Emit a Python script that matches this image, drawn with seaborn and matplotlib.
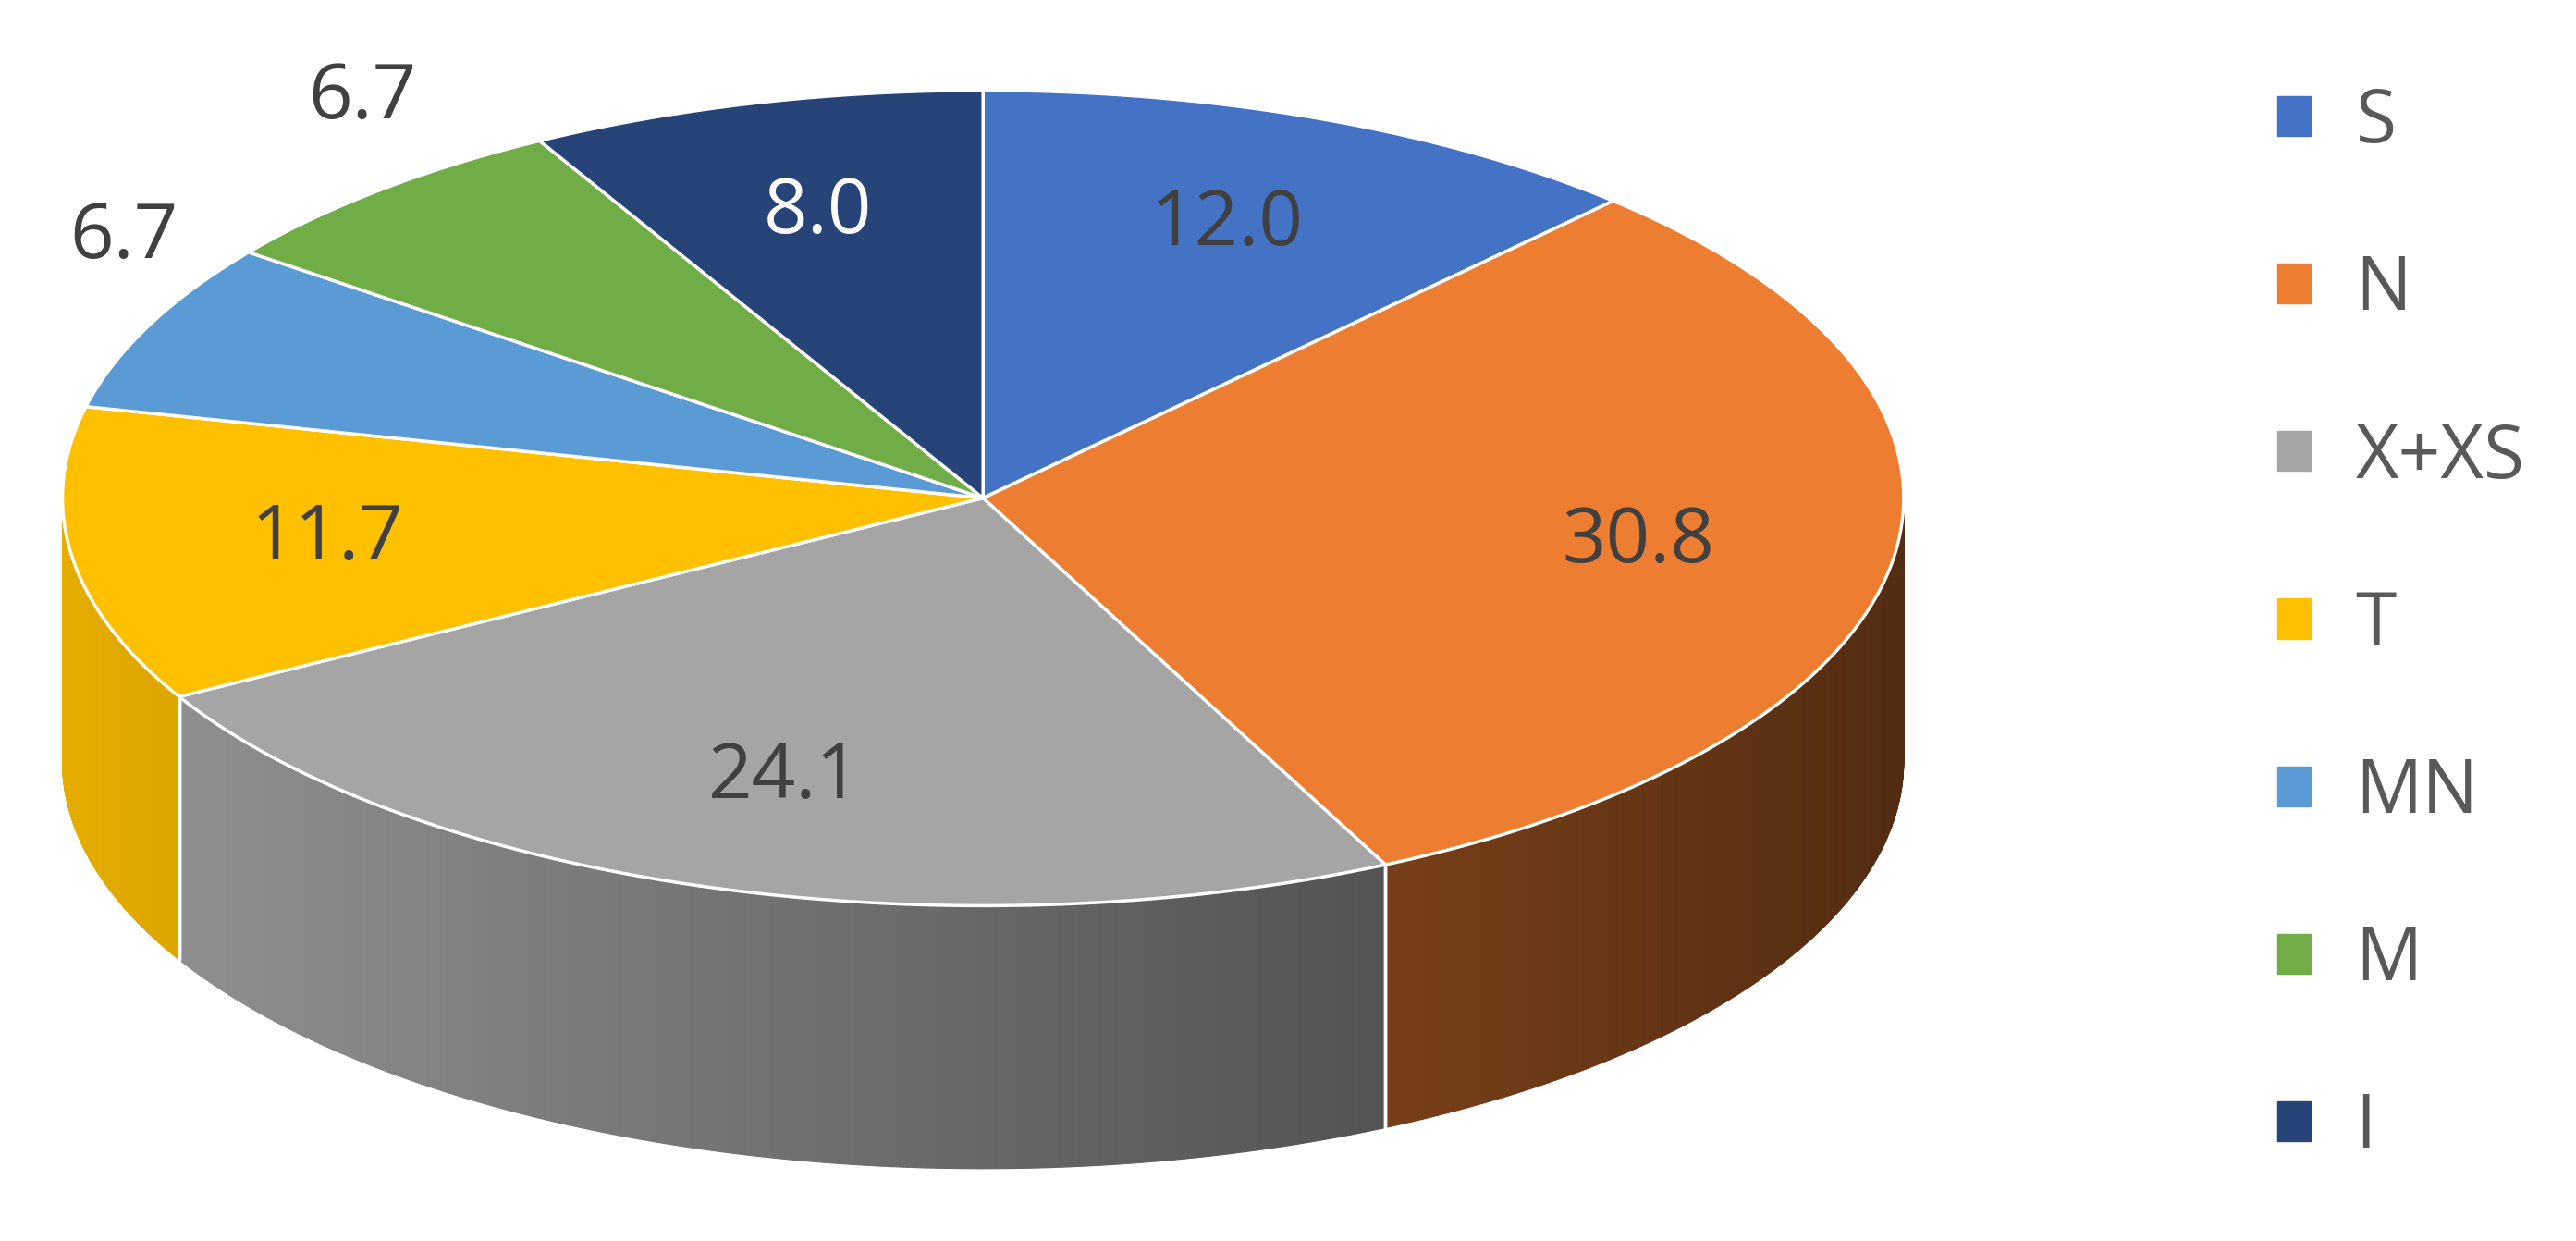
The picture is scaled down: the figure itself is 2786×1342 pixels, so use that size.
import numpy as np
import matplotlib
matplotlib.use("Agg")
import matplotlib.pyplot as plt
from matplotlib.patches import Polygon, Patch
import seaborn as sns

categories = ["S", "N", "X+XS", "T", "MN", "M", "I"]
values = [12.0, 30.8, 24.1, 11.7, 6.7, 6.7, 8.0]
hexcolors = ["#4472C4", "#ED7D31", "#A5A5A5", "#FFC000", "#5B9BD5", "#70AD47", "#264478"]
label_text = ["12.0", "30.8", "24.1", "11.7", "6.7", "6.7", "8.0"]

sns.set_theme(style="white")
plt.rcParams['font.family'] = ['Open Sans', 'DejaVu Sans']
colors = sns.color_palette(hexcolors)

fig = plt.figure(figsize=(27.86, 13.42), dpi=100)
ax = fig.add_axes([0, 0, 1, 1])
ax.set_xlim(0, 1567); ax.set_ylim(755, 0); ax.axis("off")

cx, cy, a, b, depth = 598, 303, 560, 248, 160
def pt(t):
    return cx + a*np.cos(t), cy - b*np.sin(t)

total = sum(values)
bounds = [np.pi/2]
for v in values:
    bounds.append(bounds[-1] - 2*np.pi*v/total)

# sides
for i, c in enumerate(colors):
    t0, t1 = bounds[i+1], bounds[i]
    ts = np.linspace(t0, t1, 400)
    ts = ts[np.sin(ts) < 0.0]
    if len(ts) < 2:
        continue
    for j in range(len(ts)-1):
        xa, ya = pt(ts[j]); xb, yb = pt(ts[j+1])
        f = 0.9 - 0.55*((xa+xb)/2 - (cx-a))/(2*a)
        col = tuple(np.clip(np.array(c)*f, 0, 1))
        ax.add_patch(Polygon([(xa, ya), (xb, yb), (xb, yb+depth), (xa, ya+depth)],
                             closed=True, fc=col, ec=col, lw=0.8))
    for t in (t0, t1):
        if np.sin(t) < 0:
            x, y = pt(t)
            ax.plot([x, x], [y, y+depth], color="white", lw=2.5)

# top face
for i, c in enumerate(colors):
    ts = np.linspace(bounds[i], bounds[i+1], 300)
    xs, ys = pt(ts)
    verts = [(cx, cy)] + list(zip(xs, ys))
    ax.add_patch(Polygon(verts, closed=True, fc=c, ec="white", lw=2.5, joinstyle="round"))

# labels
for i, txt in enumerate(label_text):
    tm = (bounds[i] + bounds[i+1]) / 2
    frac = values[i]/total
    x, y = pt(tm)
    if frac > 0.075:
        x = cx + (x-cx)*0.72; y = cy + (y-cy)*0.72
    else:
        x = cx + (x-cx)*1.03; y = cy + (y-cy)*1.03 - 50
    col = "white" if categories[i] == "I" else "#404040"
    ax.text(x, y, txt, ha="center", va="center", fontsize=60, color=col)

handles = [Patch(fc=c, ec=c) for c in colors]
leg = fig.legend(handles, categories, loc="upper left", bbox_to_anchor=(0.858, 0.985),
                 frameon=False, fontsize=58, handlelength=0.45, handleheight=0.45,
                 labelspacing=1.25, handletextpad=0.6)
for t in leg.get_texts():
    t.set_color("#595959")

fig.savefig("out.png", dpi=100)
